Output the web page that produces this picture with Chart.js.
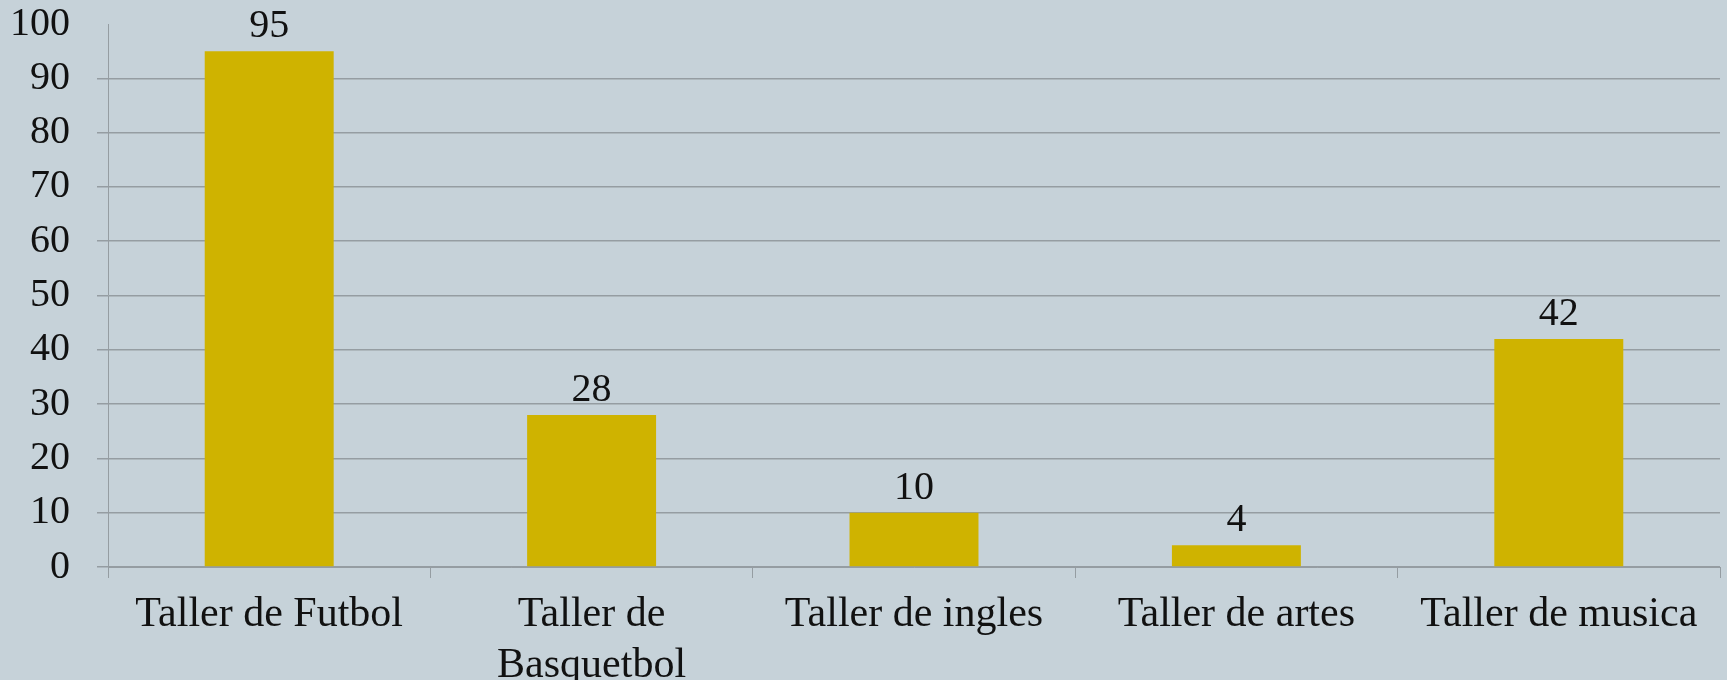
<!DOCTYPE html>
<html><head><meta charset="utf-8">
<script src="https://cdn.jsdelivr.net/npm/chart.js@4.4.1/dist/chart.umd.min.js"></script>
<style>html,body{margin:0;padding:0;background:#c6d2d9;}#wrap{width:1727px;height:680px;}</style>
</head><body><div id="wrap"><canvas id="c" width="1727" height="680"></canvas></div>
<script>
const categories = ["Taller de Futbol", ["Taller de", "Basquetbol"], "Taller de ingles", "Taller de artes", "Taller de musica"];
const values = [95, 28, 10, 4, 42];
const yTicks = [0, 10, 20, 30, 40, 50, 60, 70, 80, 90, 100];

const FONT = "'Liberation Serif', 'Times New Roman', serif";
const TEXT = "#111111";
const GRID = "#959da2";

const valueLabels = {
  id: 'valueLabels',
  afterDatasetsDraw(chart) {
    const ctx = chart.ctx;
    const meta = chart.getDatasetMeta(0);
    ctx.save();
    ctx.font = "40px " + FONT;
    ctx.fillStyle = TEXT;
    ctx.textAlign = 'center';
    ctx.textBaseline = 'alphabetic';
    meta.data.forEach((el, i) => {
      ctx.fillText(String(values[i]), el.x, el.y - 14);
    });
    ctx.restore();
  }
};

new Chart(document.getElementById('c'), {
  type: 'bar',
  data: {
    labels: categories,
    datasets: [{
      data: values,
      backgroundColor: '#cfb300',
      borderWidth: 0,
      barPercentage: 0.8,
      categoryPercentage: 0.5
    }]
  },
  options: {
    responsive: false,
    animation: false,
    devicePixelRatio: 1,
    layout: { padding: { top: 0, right: 7, left: 0, bottom: 0 } },
    plugins: { legend: { display: false }, tooltip: { enabled: false } },
    scales: {
      x: {
        grid: { display: true, drawOnChartArea: false, drawTicks: true, tickLength: 11, color: GRID, offset: true },
        border: { display: true, color: GRID, width: 1 },
        ticks: { color: TEXT, font: { family: FONT, size: 42 }, padding: 12, maxRotation: 0, autoSkip: false },
        afterFit(s) { s.height = 113; }
      },
      y: {
        min: 0, max: 100,
        afterBuildTicks(s) { s.ticks = yTicks.map(v => ({ value: v })); },
        grid: {
          color: (c) => (c.tick && c.tick.value === 100) ? 'rgba(0,0,0,0)' : GRID,
          tickLength: 11, lineWidth: 1.5
        },
        border: { display: true, color: GRID, width: 1 },
        ticks: { color: TEXT, font: { family: FONT, size: 40 }, padding: 27 },
        afterFit(s) { s.width = 108; s.paddingTop = 24; s.paddingBottom = 0; }
      }
    }
  },
  plugins: [valueLabels]
});
</script>
</body></html>
